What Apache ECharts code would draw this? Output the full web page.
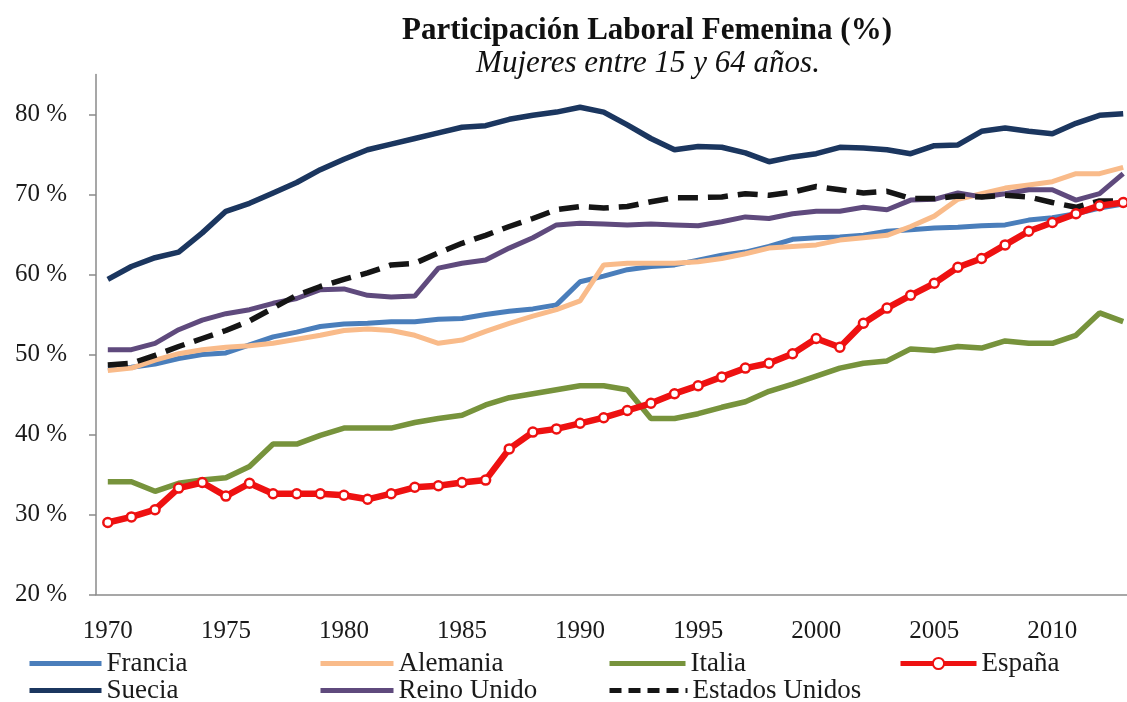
<!DOCTYPE html>
<html>
<head>
    <meta charset="utf-8"/>
    <title>Participación Laboral Femenina (%)</title>
    <style>
        html, body { margin: 0; padding: 0; background: #fff; }
        #chart { width: 1127px; height: 702px; }
    </style>
</head>
<body>
<div id="chart"></div>

<script src="https://cdn.jsdelivr.net/npm/echarts@6.0.0/dist/echarts.min.js"></script>
<script>
    // años (categorías)
    var anios = ['1970', '1971', '1972', '1973', '1974', '1975', '1976', '1977', '1978', '1979',
        '1980', '1981', '1982', '1983', '1984', '1985', '1986', '1987', '1988', '1989',
        '1990', '1991', '1992', '1993', '1994', '1995', '1996', '1997', '1998', '1999',
        '2000', '2001', '2002', '2003', '2004', '2005', '2006', '2007', '2008', '2009',
        '2010', '2011', '2012', '2013'];

    // tasas de participación (%)
    var francia = [48.3, 48.4, 48.8, 49.5, 50.0, 50.2, 51.2, 52.2, 52.8, 53.5,
        53.8, 53.9, 54.1, 54.1, 54.4, 54.5, 55.0, 55.4, 55.7, 56.2,
        59.1, 59.8, 60.6, 61.0, 61.2, 61.8, 62.4, 62.8, 63.5, 64.4,
        64.6, 64.7, 64.9, 65.4, 65.6, 65.8, 65.9, 66.1, 66.2, 66.8,
        67.1, 67.6, 68.3, 68.8];
    var alemania = [48.0, 48.3, 49.3, 50.1, 50.6, 50.9, 51.1, 51.4, 51.9, 52.4,
        53.0, 53.2, 53.0, 52.4, 51.4, 51.8, 52.9, 53.9, 54.8, 55.6,
        56.7, 61.2, 61.4, 61.4, 61.4, 61.6, 62.0, 62.6, 63.3, 63.5,
        63.7, 64.3, 64.6, 64.9, 66.0, 67.3, 69.4, 70.1, 70.8, 71.2,
        71.6, 72.6, 72.6, 73.4];
    var italia = [34.1, 34.1, 32.9, 33.9, 34.3, 34.6, 36.0, 38.8, 38.8, 39.9,
        40.8, 40.8, 40.8, 41.5, 42.0, 42.4, 43.7, 44.6, 45.1, 45.6,
        46.1, 46.1, 45.6, 42.0, 42.0, 42.6, 43.4, 44.1, 45.4, 46.3,
        47.3, 48.3, 48.9, 49.2, 50.7, 50.5, 51.0, 50.8, 51.7, 51.4,
        51.4, 52.4, 55.2, 54.1];
    var espana = [29.0, 29.7, 30.6, 33.3, 34.0, 32.3, 33.9, 32.6, 32.6, 32.6,
        32.4, 31.9, 32.6, 33.4, 33.6, 34.0, 34.3, 38.2, 40.3, 40.7,
        41.4, 42.1, 43.0, 43.9, 45.1, 46.1, 47.2, 48.3, 48.9, 50.1,
        52.0, 50.9, 53.9, 55.8, 57.4, 58.9, 60.9, 62.0, 63.7, 65.4,
        66.5, 67.6, 68.6, 69.0];
    var suecia = [59.4, 61.0, 62.1, 62.8, 65.2, 67.9, 68.9, 70.2, 71.5, 73.1,
        74.4, 75.6, 76.3, 77.0, 77.7, 78.4, 78.6, 79.4, 79.9, 80.3,
        80.9, 80.3, 78.7, 77.0, 75.6, 76.0, 75.9, 75.2, 74.1, 74.7,
        75.1, 75.9, 75.8, 75.6, 75.1, 76.1, 76.2, 77.9, 78.3, 77.9,
        77.6, 78.9, 79.9, 80.1];
    var reinoUnido = [50.6, 50.6, 51.4, 53.1, 54.3, 55.1, 55.6, 56.4, 57.0, 58.1,
        58.2, 57.4, 57.2, 57.3, 60.8, 61.4, 61.8, 63.3, 64.6, 66.2,
        66.4, 66.3, 66.2, 66.3, 66.2, 66.1, 66.6, 67.2, 67.0, 67.6,
        67.9, 67.9, 68.4, 68.1, 69.3, 69.4, 70.2, 69.7, 70.1, 70.6,
        70.6, 69.3, 70.1, 72.6];
    var estadosUnidos = [48.7, 48.9, 49.9, 51.0, 52.0, 53.0, 54.2, 55.8, 57.4, 58.5,
        59.4, 60.2, 61.2, 61.4, 62.7, 63.9, 64.9, 66.0, 67.0, 68.1,
        68.5, 68.3, 68.5, 69.1, 69.6, 69.6, 69.7, 70.1, 69.9, 70.3,
        71.0, 70.6, 70.2, 70.4, 69.5, 69.5, 69.8, 69.7, 69.9, 69.7,
        69.0, 68.4, 69.2, 69.2];

    // marcas del eje Y
    var yTicks = [20, 30, 40, 50, 60, 70, 80];

    var fuente = '"Liberation Serif", "DejaVu Serif", serif';
    var grisEje = '#8a8a8a';

    var chart = echarts.init(document.getElementById('chart'));

    // una leyenda por serie para colocarlas en rejilla
    function leyenda(nombre, x, y, ancho, tipo, conMarca) {
        return {
            data: [nombre],
            left: x,
            top: y,
            padding: 0,
            itemWidth: ancho,
            itemHeight: 14,
            lineStyle: {width: 5, type: tipo || 'solid'},
            itemStyle: conMarca ? {} : {opacity: 0},
            textStyle: {fontFamily: fuente, fontSize: 27, color: '#1a1a1a'}
        };
    }

    function serie(nombre, datos, color, grosor, extra) {
        var s = {
            name: nombre,
            type: 'line',
            data: datos,
            symbol: 'none',
            lineStyle: {color: color, width: grosor},
            itemStyle: {color: color}
        };
        if (extra) {
            for (var k in extra) s[k] = extra[k];
        }
        return s;
    }

    var option = {
        animation: false,
        backgroundColor: '#fff',
        title: [{
            text: 'Participación Laboral Femenina (%)',
            left: 642,
            top: 10,
            textAlign: 'center',
            textStyle: {fontFamily: fuente, fontSize: 31, fontWeight: 'bold', color: '#111'}
        }, {
            text: 'Mujeres entre 15 y 64 años.',
            left: 643,
            top: 43,
            textAlign: 'center',
            textStyle: {fontFamily: fuente, fontSize: 31, fontStyle: 'italic', fontWeight: 'normal', color: '#111'}
        }],
        legend: [
            leyenda('Francia', 27, 650, 72),
            leyenda('Alemania', 318, 650, 73),
            leyenda('Italia', 607, 650, 76),
            leyenda('España', 898, 650, 76, 'solid', true),
            leyenda('Suecia', 27, 677, 72),
            leyenda('Reino Unido', 318, 677, 73),
            leyenda('Estados Unidos', 607, 677, 78, [12, 7])
        ],
        grid: {left: 96, top: 74.5, width: 1039, height: 520, outerBoundsMode: 'none', containLabel: false},
        xAxis: {
            type: 'category',
            data: anios,
            boundaryGap: true,
            axisLine: {lineStyle: {color: grisEje, width: 1.5}},
            axisTick: {interval: 0, length: 10, lineStyle: {color: grisEje, width: 1.5}},
            axisLabel: {
                interval: 4,
                margin: 24,
                fontFamily: fuente,
                fontSize: 25,
                color: '#1a1a1a'
            },
            splitLine: {show: false}
        },
        yAxis: {
            type: 'value',
            min: 20,
            max: 85,
            interval: 10,
            axisLine: {show: true, lineStyle: {color: grisEje, width: 1.5}},
            axisTick: {show: true, length: 7, customValues: yTicks, lineStyle: {color: grisEje, width: 1.5}},
            axisLabel: {
                customValues: yTicks,
                margin: 29,
                fontFamily: fuente,
                fontSize: 25,
                color: '#1a1a1a',
                formatter: function (v) {
                    return v + ' %';
                }
            },
            splitLine: {show: false}
        },
        series: [
            serie('Francia', francia, '#4a7ebb', 5),
            serie('Alemania', alemania, '#f9bb8a', 5),
            serie('Italia', italia, '#77933c', 5.5),
            serie('Suecia', suecia, '#1b365f', 5.5),
            serie('Reino Unido', reinoUnido, '#5f4a7d', 5),
            serie('Estados Unidos', estadosUnidos, '#151515', 5, {
                lineStyle: {color: '#151515', width: 5.5, type: [20, 10]}
            }),
            serie('España', espana, '#ee1111', 6.5, {
                z: 5,
                symbol: 'circle',
                symbolSize: 9,
                showSymbol: true,
                itemStyle: {color: '#ffffff', borderColor: '#ee1111', borderWidth: 2.5}
            })
        ]
    };
    chart.setOption(option);
</script>
</body>
</html>
